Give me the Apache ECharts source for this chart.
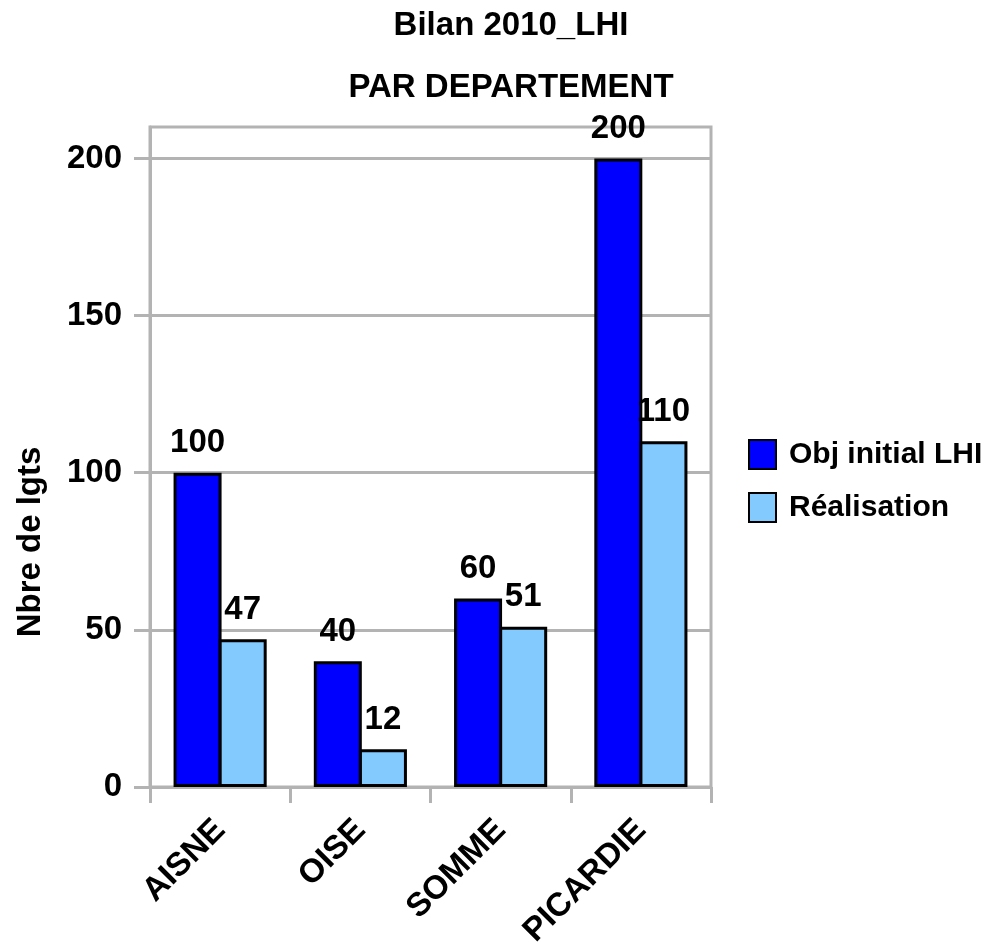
<!DOCTYPE html>
<html>
<head>
<meta charset="utf-8">
<script src="https://cdn.jsdelivr.net/npm/echarts@6/dist/echarts.min.js"></script>
<style>
html,body{margin:0;padding:0;background:#fff;}
#chart{width:993px;height:944px;}
</style>
</head>
<body>
<div id="chart"></div>
<script>
var titleText = 'Bilan 2010_LHI';
var subtitleText = 'PAR DEPARTEMENT';
var yAxisName = 'Nbre de lgts';
var categories = ['AISNE', 'OISE', 'SOMME', 'PICARDIE'];
var seriesNames = ['Obj initial LHI', 'Réalisation'];
var objValues = [100, 40, 60, 200];
var realValues = [47, 12, 51, 110];
var yTicks = [0, 50, 100, 150, 200];

var FONT = '"Liberation Sans", Arial, sans-serif';
var chart = echarts.init(document.getElementById('chart'), null, {renderer: 'canvas'});

var labelStyle = {
  show: true, position: 'top', distance: 13,
  color: '#000', fontFamily: FONT, fontWeight: 'bold', fontSize: 33
};

chart.setOption({
  backgroundColor: '#fff',
  animation: false,
  title: [
    {text: titleText, left: 506, top: 4, textAlign: 'center',
     textStyle: {fontFamily: FONT, fontWeight: 'bold', fontSize: 33, color: '#000'}},
    {text: subtitleText, left: 506, top: 66, textAlign: 'center',
     textStyle: {fontFamily: FONT, fontWeight: 'bold', fontSize: 33, color: '#000'}}
  ],
  legend: {
    orient: 'vertical', left: 748, top: 439, padding: 0,
    itemWidth: 27, itemHeight: 29, itemGap: 22,
    icon: 'rect',
    textStyle: {fontFamily: FONT, fontWeight: 'bold', fontSize: 30, color: '#000', padding: [0, 0, 0, 8]},
    data: seriesNames
  },
  grid: {
    left: 150, right: 282, top: 127, bottom: 157,
    containLabel: false, outerBoundsMode: 'none',
    show: true, borderColor: '#b3b3b3', borderWidth: 3
  },
  xAxis: {
    type: 'category', data: categories,
    axisLine: {lineStyle: {color: '#b3b3b3', width: 3}},
    axisTick: {show: true, length: 16, lineStyle: {color: '#b3b3b3', width: 3}},
    axisLabel: {rotate: 45, margin: 38, color: '#000', fontFamily: FONT, fontWeight: 'bold', fontSize: 33}
  },
  yAxis: {
    type: 'value', min: 0, max: 210, interval: 50,
    axisLine: {show: true, lineStyle: {color: '#b3b3b3', width: 3}},
    axisTick: {show: true, length: 16, customValues: yTicks, lineStyle: {color: '#b3b3b3', width: 3}},
    axisLabel: {margin: 28, customValues: yTicks, color: '#000', fontFamily: FONT, fontWeight: 'bold', fontSize: 33},
    splitLine: {show: true, lineStyle: {color: '#b3b3b3', width: 3}}
  },
  graphic: [{
    type: 'text', x: 31, y: 542, rotation: Math.PI / 2,
    style: {text: yAxisName, fill: '#000', font: 'bold 33px ' + FONT, textAlign: 'center', textVerticalAlign: 'middle'}
  }],
  series: [
    {name: seriesNames[0], type: 'bar', data: objValues, barWidth: 48, barGap: '-6%',
     itemStyle: {color: '#0000ff', borderColor: '#000', borderWidth: 3}, label: labelStyle},
    {name: seriesNames[1], type: 'bar', data: realValues, barWidth: 48, barGap: '-6%',
     itemStyle: {color: '#83caff', borderColor: '#000', borderWidth: 3}, label: labelStyle}
  ]
});
</script>
</body>
</html>
